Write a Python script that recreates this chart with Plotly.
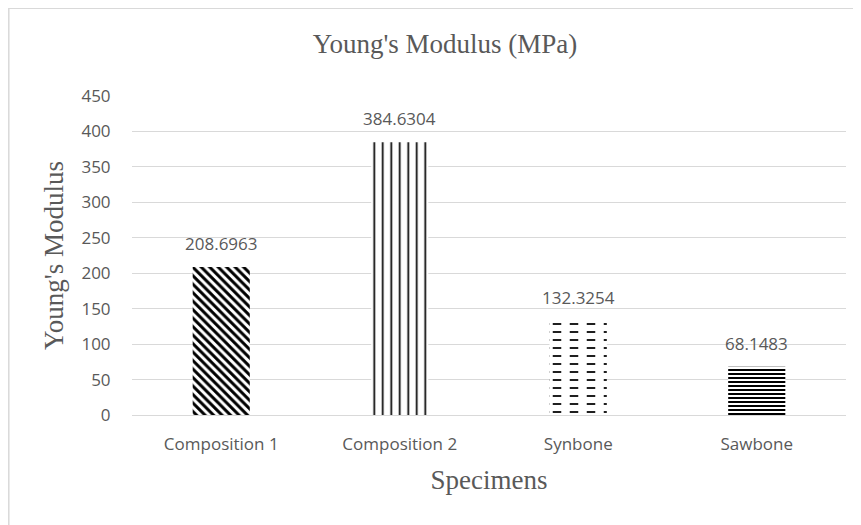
import plotly.graph_objects as go

categories = ["Composition 1", "Composition 2", "Synbone", "Sawbone"]
values = [208.6963, 384.6304, 132.3254, 68.1483]
value_labels = ["208.6963", "384.6304", "132.3254", "68.1483"]
y_ticks = [0, 50, 100, 150, 200, 250, 300, 350, 400, 450]

GRAY_TXT = "#595959"
GRID = "#d9d9d9"
SANS = "Open Sans"
SERIF = "Liberation Serif"

# page has an 8px body margin: figure is 853x517 placed at (8, 8)
W, H = 853, 517
L, R, T, B = 124, 15, 88, 110
PW, PH = W - L - R, H - T - B

fig = go.Figure()

fig.add_trace(go.Bar(
    x=categories, y=values,
    opacity=1,
    marker=dict(
        color="white",
        opacity=1,
        line=dict(width=0),
        pattern=dict(
            shape=["\\", "|", "-", "-"],
            size=[6, 8.5, 8, 4],
            solidity=[0.5, 0.2, 0.22, 0.5],
            fgcolor="black",
            bgcolor="white",
            fgopacity=1,
        ),
    ),
    showlegend=False,
    hoverinfo="skip",
))

# break the Synbone horizontal lines into dashes
fig.add_trace(go.Bar(
    x=[categories[2]], y=[values[2]],
    opacity=1,
    marker=dict(
        color="rgba(0,0,0,0)",
        line=dict(width=0),
        pattern=dict(shape="|", size=17, solidity=0.5, fgcolor="white",
                     bgcolor="rgba(0,0,0,0)", fgopacity=1),
    ),
    showlegend=False,
    hoverinfo="skip",
))

for c, v, t in zip(categories, values, value_labels):
    fig.add_annotation(x=c, y=v, text=t, showarrow=False, yanchor="bottom", yshift=10,
                       font=dict(family=SANS, size=17, color=GRAY_TXT))

# chart border (extends past the right and bottom edges)
fig.add_shape(type="rect", xref="paper", yref="paper",
              x0=(0.8 - L) / PW, x1=(W + 20 - L) / PW,
              y0=(T + PH - H - 20) / PH, y1=(T + PH - 0.2) / PH,
              line=dict(color=GRID, width=1.5), fillcolor="rgba(0,0,0,0)", layer="below")

fig.update_layout(
    width=W, height=H,
    margin=dict(l=L, r=R, t=T, b=B, pad=0),
    paper_bgcolor="white", plot_bgcolor="white",
    barmode="overlay",
    bargap=0.68,
    title=dict(text="Young's Modulus (MPa)", x=437 / W, xanchor="center", xref="container",
               y=1 - 36 / H, yanchor="middle", yref="container",
               font=dict(family=SERIF, size=27, color=GRAY_TXT)),
    xaxis=dict(
        tickfont=dict(family=SANS, size=17, color=GRAY_TXT),
        ticks="outside", ticklen=14, tickcolor="rgba(0,0,0,0)",
        title=dict(text="Specimens", font=dict(family=SERIF, size=27, color=GRAY_TXT), standoff=15),
        showline=True, linecolor=GRID, linewidth=1, showgrid=False,
    ),
    yaxis=dict(
        range=[0, 450], tickvals=y_ticks,
        tickfont=dict(family=SANS, size=17, color=GRAY_TXT),
        ticks="outside", ticklen=17, tickcolor="rgba(0,0,0,0)",
        title=dict(text="Young's Modulus", font=dict(family=SERIF, size=27, color=GRAY_TXT), standoff=9),
        showgrid=True, gridcolor=GRID, gridwidth=1, zeroline=False, showline=False,
    ),
)

fig.write_html("out.html")
